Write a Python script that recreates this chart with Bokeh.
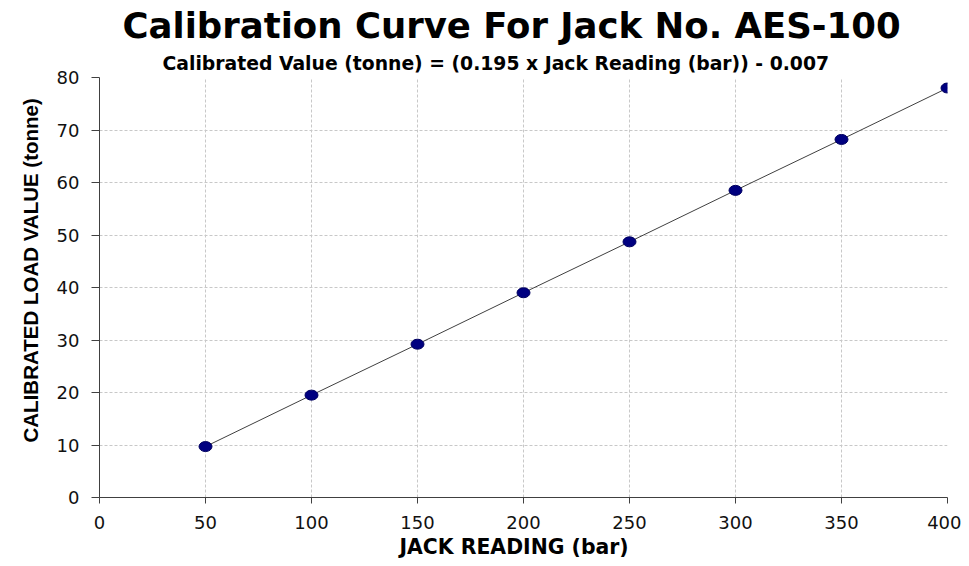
from bokeh.plotting import figure
from bokeh.models import Title, Range1d, FixedTicker
from bokeh.embed import file_html
from bokeh.resources import INLINE

jack_reading = [50, 100, 150, 200, 250, 300, 350, 400]
load_value = [9.7, 19.5, 29.2, 39.0, 48.7, 58.5, 68.2, 78.0]
x_ticks = [0, 50, 100, 150, 200, 250, 300, 350, 400]
y_ticks = [0, 10, 20, 30, 40, 50, 60, 70, 80]

p = figure(width=961, height=560, output_backend="svg", toolbar_location=None,
           x_range=Range1d(0, 400), y_range=Range1d(0, 80),
           min_border_left=99, min_border_right=14, min_border_top=0, min_border_bottom=10)
p.outline_line_color = None
p.background_fill_color = "white"
p.border_fill_color = "white"

p.title.text = "Calibration Curve For Jack No. AES-100"
p.title.text_font = "DejaVu Sans"
p.title.text_font_size = "35.5px"
p.title.text_font_style = "bold"
p.title.text_color = "black"
p.title.align = "left"
p.title.offset = 23
p.title.standoff = 4

sub = Title(text="Calibrated Value (tonne) = (0.195 x Jack Reading (bar)) - 0.007",
            text_font="DejaVu Sans", text_font_size="18.8px", text_font_style="bold",
            text_color="black", align="left", offset=63, standoff=7)
p.add_layout(sub, "above")

xlab = Title(text="JACK READING (bar)", text_font="DejaVu Sans", text_font_size="20.4px",
             text_font_style="bold", text_color="black", align="left", offset=300, standoff=3)
p.add_layout(xlab, "below")

ylab = Title(text="CALIBRATED LOAD VALUE  (tonne)", text_font="Liberation Sans", text_font_size="20.5px",
             text_font_style="bold", text_color="black", align="left", offset=55, standoff=22,
             vertical_align="middle")
p.add_layout(ylab, "left")

for ax in (p.xaxis[0], p.yaxis[0]):
    ax.axis_line_color = "#404040"
    ax.major_tick_line_color = "#404040"
    ax.minor_tick_line_color = None
    ax.major_tick_in = 0
    ax.major_label_text_font = "DejaVu Sans"
    ax.major_label_text_font_size = "18px"
    ax.major_label_text_color = "#111111"

p.xaxis.ticker = FixedTicker(ticks=x_ticks)
p.yaxis.ticker = FixedTicker(ticks=y_ticks)
p.xaxis.major_tick_out = 6
p.yaxis.major_tick_out = 8
p.xaxis.major_label_standoff = 12
p.yaxis.major_label_standoff = 12

p.xgrid.grid_line_color = "#c8c8c8"
p.ygrid.grid_line_color = "#c8c8c8"
p.xgrid.grid_line_dash = "3 2"
p.ygrid.grid_line_dash = "3 2"

p.line(jack_reading, load_value, line_color="#404040", line_width=1)
p.ellipse(jack_reading, load_value, width=13, height=10, width_units="screen",
          height_units="screen", fill_color="#000080", line_color="#000060")

open("out.html", "w").write(file_html(p, INLINE))
